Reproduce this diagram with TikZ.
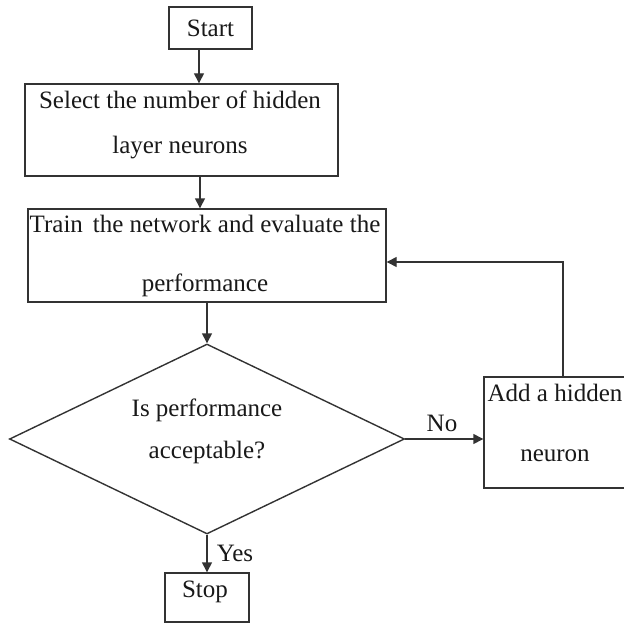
\documentclass[tikz,border=0pt]{standalone}
\usepackage{fontspec}
\setmainfont{Liberation Serif}
\usetikzlibrary{arrows.meta,shapes.geometric}
\begin{document}
\begin{tikzpicture}[x=1pt,y=-1pt,
  rectbox/.style={draw=black!80,line width=1.4pt,inner sep=0pt,fill=white},
  lbl/.style={text=black!90,inner sep=0pt,align=center},
  arr/.style={draw=black!80,line width=1.4pt,-{Triangle[length=10pt,width=10pt]}},
  conn/.style={draw=black!80,line width=1.4pt}]
\useasboundingbox (0,0) rectangle (624,623);
\fill[white] (0,0) rectangle (624,623);
% boxes
\node[rectbox,minimum width=83pt,minimum height=42pt,font=\fontsize{25}{29}\selectfont,text=black!90] (start) at (210.5,28) {Start};
\node[rectbox,minimum width=313pt,minimum height=92pt] (sel) at (181.5,130) {};
\node[rectbox,minimum width=358pt,minimum height=93pt] (train) at (207,255.5) {};
\node[draw=black!80,line width=1.4pt,diamond,inner sep=0pt,minimum width=395pt,minimum height=190pt] (dia) at (207,439) {};
\node[rectbox,minimum width=148pt,minimum height=111pt] (add) at (558,432.5) {};
\node[rectbox,minimum width=84pt,minimum height=49pt] (stop) at (207,597.5) {};
% texts
\node[lbl,font=\fontsize{25}{45}\selectfont] (seltxt) at (180,124.5) {Select the number of hidden\\layer neurons};
\node[lbl,font=\fontsize{25}{59}\selectfont] (traintxt) at (205,255.5) {Train\hspace{0.4em}the network and evaluate the\\performance};
\node[lbl,font=\fontsize{25}{42}\selectfont] (diatxt) at (207,431) {Is performance\\acceptable?};
\node[lbl,font=\fontsize{25}{60}\selectfont] (addtxt) at (555,423) {Add a hidden\\neuron};
\node[lbl,font=\fontsize{25}{29}\selectfont] (stoptxt) at (205,592) {Stop};
% connectors
\draw[arr] ([xshift=-11.5pt]start.south) -- ([xshift=-11.5pt]start.south |- sel.north);
\draw[arr] ([xshift=18.5pt]sel.south) -- ([xshift=18.5pt]sel.south |- train.north);
\draw[arr] (train.south) -- (dia.north);
\draw[arr] (dia.east) -- (dia.east -| add.west);
\draw[arr] ([xshift=5pt]add.north) |- ([yshift=-6.5pt]train.east);
\draw[arr] (dia.south) -- (stop.north);
% labels
\node[lbl,font=\fontsize{25}{29}\selectfont] (nolbl) at (442,423) {No};
\node[lbl,font=\fontsize{25}{29}\selectfont] (yeslbl) at (235,553) {Yes};
\end{tikzpicture}
\end{document}
